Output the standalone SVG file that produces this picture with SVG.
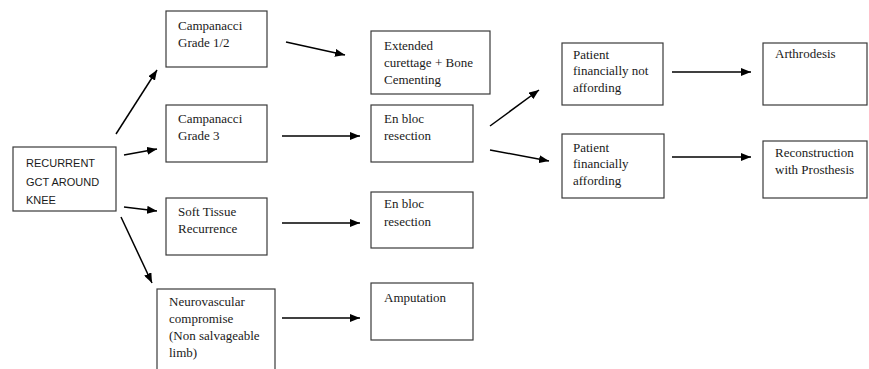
<svg xmlns="http://www.w3.org/2000/svg" width="869" height="369" viewBox="0 0 869 369">
<style>
.box{fill:#fff;stroke:#3a3a3a;stroke-width:1.2}
.t{font-family:"Liberation Serif","Times New Roman",serif;font-size:13px;fill:#1a1a1a}
.s{font-family:"Liberation Sans",Arial,sans-serif;font-size:11px;fill:#1a1a1a}
.c{stroke:#000;stroke-width:1.5;fill:none;marker-end:url(#ah)}
</style>
<defs>
<marker id="ah" viewBox="0 0 10 8" refX="10" refY="4" markerWidth="10" markerHeight="8" markerUnits="userSpaceOnUse" orient="auto">
<path d="M0,0 L10,4 L0,8 Z" fill="#000"/>
</marker>
</defs>
<rect width="869" height="369" fill="#fff"/>
<g id="recurrent"><rect class="box" x="13" y="147" width="103" height="64"/>
<text class="s" x="26" y="167">RECURRENT</text><text class="s" x="26" y="186">GCT AROUND</text><text class="s" x="26" y="204">KNEE</text></g>
<g id="camp12"><rect class="box" x="166" y="11" width="101" height="56"/>
<text class="t" x="178" y="30">Campanacci</text><text class="t" x="178" y="47">Grade 1/2</text></g>
<g id="camp3"><rect class="box" x="166" y="105" width="101" height="57"/>
<text class="t" x="178" y="123">Campanacci</text><text class="t" x="178" y="140">Grade 3</text></g>
<g id="soft"><rect class="box" x="166" y="198" width="101" height="57"/>
<text class="t" x="178" y="216">Soft Tissue</text><text class="t" x="178" y="233">Recurrence</text></g>
<g id="neuro"><rect class="box" x="157" y="289" width="118" height="90"/>
<text class="t" x="169" y="306">Neurovascular</text><text class="t" x="169" y="323">compromise</text><text class="t" x="169" y="340">(Non salvageable</text><text class="t" x="169" y="357">limb)</text></g>
<g id="extended"><rect class="box" x="371" y="31" width="119" height="63"/>
<text class="t" x="384" y="50">Extended</text><text class="t" x="384" y="67">curettage + Bone</text><text class="t" x="384" y="84">Cementing</text></g>
<g id="enbloc1"><rect class="box" x="371" y="105" width="102" height="57"/>
<text class="t" x="384" y="123">En bloc</text><text class="t" x="384" y="140">resection</text></g>
<g id="enbloc2"><rect class="box" x="371" y="192" width="102" height="56"/>
<text class="t" x="384" y="208">En bloc</text><text class="t" x="384" y="226">resection</text></g>
<g id="amputation"><rect class="box" x="371" y="283" width="102" height="57"/>
<text class="t" x="384" y="302">Amputation</text></g>
<g id="notafford"><rect class="box" x="562" y="43" width="101" height="62"/>
<text class="t" x="573" y="59">Patient</text><text class="t" x="573" y="75">financially not</text><text class="t" x="573" y="92">affording</text></g>
<g id="afford"><rect class="box" x="562" y="134" width="102" height="64"/>
<text class="t" x="573" y="152">Patient</text><text class="t" x="573" y="168">financially</text><text class="t" x="573" y="185">affording</text></g>
<g id="arthrodesis"><rect class="box" x="763" y="43" width="104" height="62"/>
<text class="t" x="775" y="58">Arthrodesis</text></g>
<g id="reconstruction"><rect class="box" x="763" y="141" width="104" height="57"/>
<text class="t" x="775" y="157">Reconstruction</text><text class="t" x="775" y="174">with Prosthesis</text></g>
<g id="connectors">
<line class="c" x1="116" y1="134" x2="157" y2="70"/>
<line class="c" x1="124" y1="155" x2="157" y2="149"/>
<line class="c" x1="124" y1="207" x2="157" y2="211"/>
<line class="c" x1="121" y1="217" x2="152" y2="283"/>
<line class="c" x1="286" y1="42" x2="345" y2="55"/>
<line class="c" x1="282" y1="136" x2="360" y2="136"/>
<line class="c" x1="282" y1="223" x2="360" y2="223"/>
<line class="c" x1="282" y1="318" x2="360" y2="318"/>
<line class="c" x1="490" y1="126" x2="539" y2="90"/>
<line class="c" x1="490" y1="150" x2="549" y2="161"/>
<line class="c" x1="672" y1="72" x2="751" y2="72"/>
<line class="c" x1="672" y1="157" x2="751" y2="157"/>
</g>
</svg>
